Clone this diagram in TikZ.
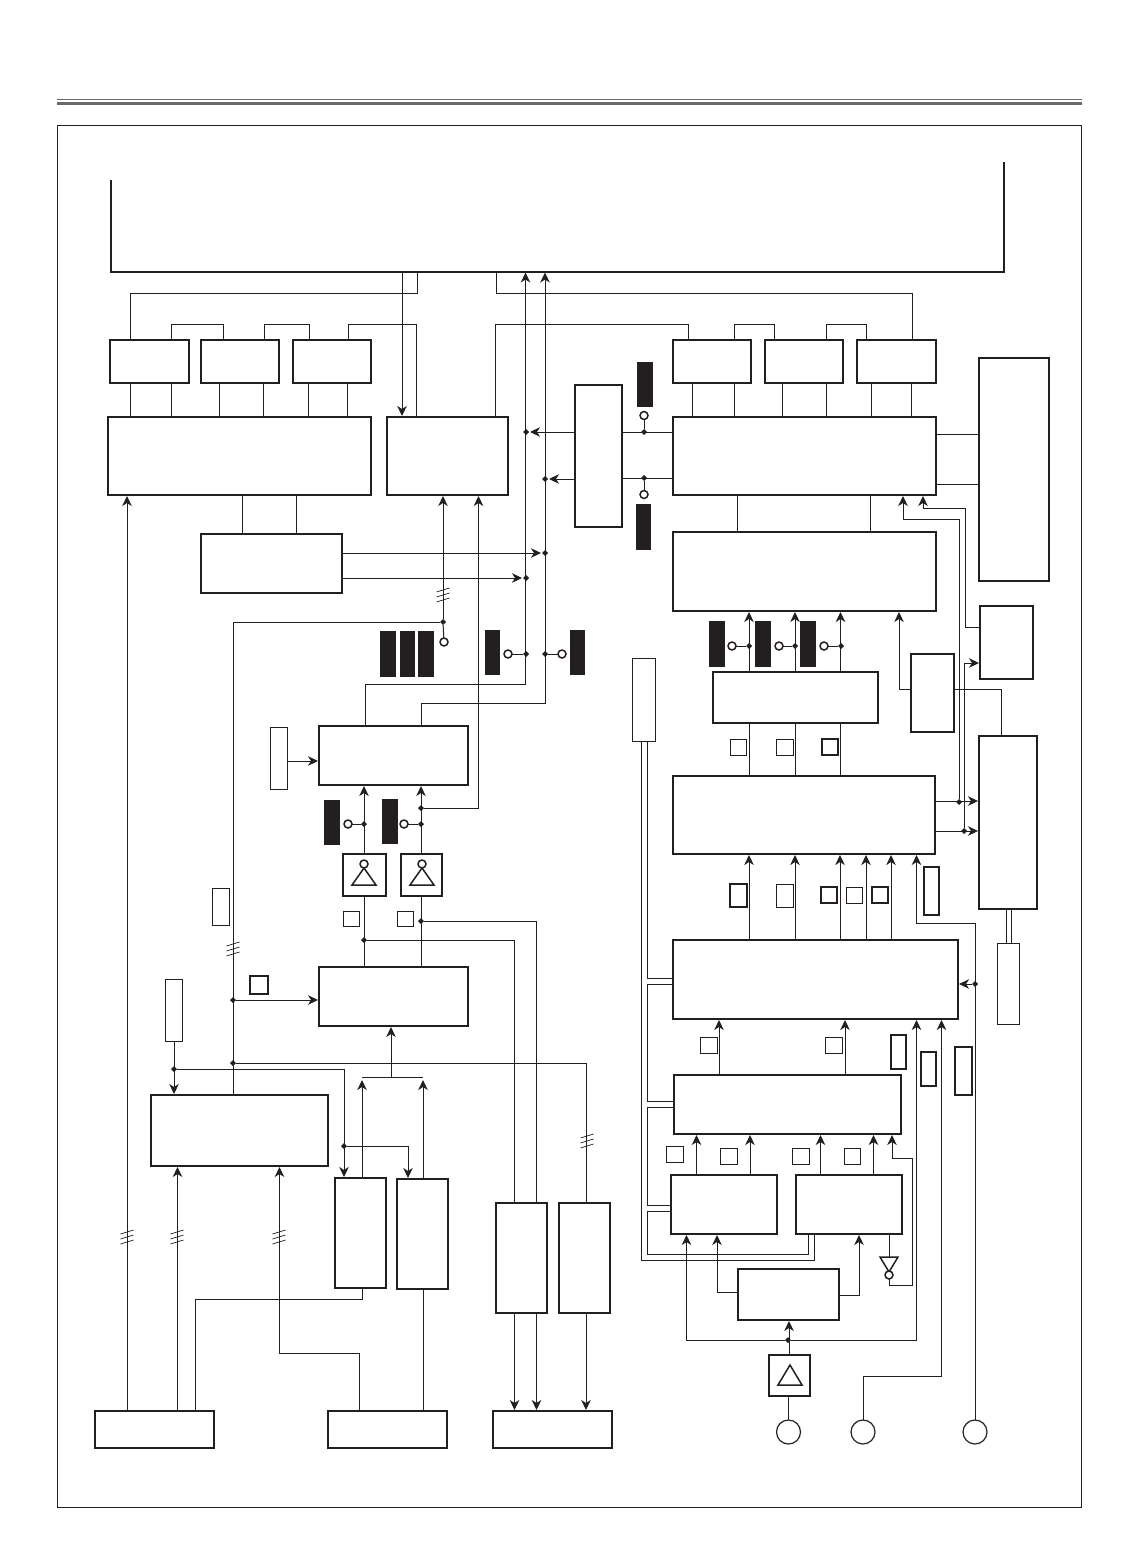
\documentclass[tikz,border=0pt]{standalone}
\usetikzlibrary{arrows.meta, fit}
\definecolor{corLinha}{RGB}{35, 31, 32}
\definecolor{corFaixa}{RGB}{105, 105, 105}
\tikzset{
  blk/.style={draw=corLinha, line width=2pt, inner sep=0pt, outer sep=0pt},
  ret/.style={draw=corLinha, line width=1pt, inner sep=0pt, outer sep=0pt},
  retG/.style={draw=corLinha, line width=2pt, inner sep=0pt, outer sep=0pt},
  preto/.style={fill=corLinha, inner sep=0pt, outer sep=0pt},
  lig/.style={draw=corLinha, line width=1pt},
  seta/.style={lig, -{Stealth[length=10pt, width=9.5pt, inset=3pt]}, shorten >=1pt},
  pto/.style={diamond, aspect=1, fill=corLinha, inner sep=0pt, outer sep=0pt, minimum size=6pt},
  anel/.style={circle, draw=corLinha, line width=1.5pt, fill=white, inner sep=0pt, outer sep=0pt, minimum size=8pt},
  ent/.style={circle, draw=corLinha, line width=1.2pt, inner sep=0pt, outer sep=0pt, minimum size=24pt},
  tri/.style={draw=corLinha, line width=1.5pt, line join=miter},
}
\usetikzlibrary{shapes.geometric}
\newcommand{\barras}[2]{%
  \foreach \d in {-5,0,5}
    \draw[corLinha, line width=.7pt] (#1-6.5,#2+\d+2) -- (#1+6.5,#2+\d-2);}

\begin{document}
\begin{tikzpicture}[x=1pt, y=-1pt]
  \useasboundingbox (0,0) rectangle (1123,1557);

  %% ================================================================
  %%  MOLDURA
  %% ================================================================
  \fill[corFaixa] (57,102) rectangle (1082,105);
  \draw[corFaixa, line width=1pt] (57,99.8) -- (1082,99.8);
  \draw[corLinha, line width=.8pt] (57,125.5) rectangle (1081.5,1507.5);

  % Bloco superior, aberto em cima
  \draw[corLinha, line width=2pt] (111,180) -- (111,271.5) -- (1004,271.5) -- (1004,162);
  \coordinate (topo) at (557,271.5);

  %% ================================================================
  %%  COLUNA ESQUERDA
  %% ================================================================
  \node[blk, fit={(110,340) (189,383)}] (memA) {};
  \node[blk, fit={(200.5,340) (279,383)}] (memB) {};
  \node[blk, fit={(292.5,340) (371,383)}] (memC) {};
  \node[blk, fit={(108,417) (371,495)}] (procE) {};
  \node[blk, fit={(387,417) (508,495)}] (procF) {};
  \node[blk, fit={(200.5,534) (342,593)}] (conv) {};
  \node[blk, fit={(319,726) (468,785)}] (procC) {};
  \node[blk, fit={(342.5,853.5) (385.5,896)}] (bufA) {};
  \node[blk, fit={(400.5,853.5) (442,896)}] (bufB) {};
  \node[blk, fit={(319,967) (468,1026)}] (procT) {};
  \node[blk, fit={(151,1095) (328,1166)}] (procU) {};
  \node[blk, fit={(335,1178) (386,1288)}] (memV) {};
  \node[blk, fit={(396.5,1179) (447.5,1289)}] (memW) {};
  \node[blk, fit={(496,1203) (547,1313)}] (procW) {};
  \node[blk, fit={(559,1203) (610,1313)}] (procX) {};
  \node[blk, fit={(95,1411) (214,1448)}] (inA) {};
  \node[blk, fit={(328,1411) (447,1448)}] (inB) {};
  \node[blk, fit={(493,1411) (612,1448)}] (inC) {};
  \node[ret, fit={(270,727) (287.5,789)}] (retC) {};
  \node[ret, fit={(165,979) (182.5,1041.5)}] (retT) {};
  \node[ret, fit={(212.5,888) (229.5,925)}] (retU) {};
  \node[retG, fit={(250,976) (268,994)}] (quadT) {};
  \node[ret, fit={(343,911) (359.5,926.5)}] (quadA) {};
  \node[ret, fit={(397.5,911) (413.5,926.5)}] (quadB) {};

  % Blocos pretos
  \foreach \a/\b/\c/\e [count=\i] in {380/631/396/677, 400/631/415/677, 418/631/434/677,
      485/630/500/675, 570/630/585/675, 324/800/340/845, 382/799/398/844}
    \node[preto, fit={(\a,\b) (\c,\e)}] (pretoE\i) {};

  % Triangulos dos buffers
  \draw[tri] (364,868) -- (352,885) -- (376,885) -- cycle;
  \draw[tri] (422,868) -- (410,885) -- (434,885) -- cycle;

  \node[anel] (anelE) at (444,642) {};
  \node[anel] (anelN) at (508,654) {};
  \node[anel] (anelO) at (562,654) {};
  \node[anel] (anelA) at (348,824) {};
  \node[anel] (anelB) at (404,824) {};
  \node[anel] (anelC) at (364,864) {};
  \node[anel] (anelD) at (422,864) {};

  \node[pto] (jE) at (443,622) {};
  \node[pto] (jN) at (526,654) {};
  \node[pto] (jO) at (545,654) {};
  \node[pto] (jA) at (364,824) {};
  \node[pto] (jB) at (421,824) {};
  \node[pto] (jF) at (421,808) {};
  \node[pto] (jW) at (364,940) {};
  \node[pto] (jZ) at (421,921) {};
  \node[pto] (jT) at (233,1000) {};
  \node[pto] (jX) at (233,1063) {};
  \node[pto] (jY) at (174,1069) {};
  \node[pto] (jV) at (344,1146) {};
  \node[pto] (jS) at (545,553) {};
  \node[pto] (jR) at (526,578) {};
  \node[pto] (jP) at (526,432) {};
  \node[pto] (jQ) at (545,479) {};

  % Memorias e bloco superior
  \draw[lig] (130,0 |- memA.north) |- (417,293) -- (417,0 |- topo);
  \draw[lig] (171,0 |- memA.north) |- (223,324) -- (223,0 |- memB.north);
  \draw[lig] (264,0 |- memB.north) |- (309,324) -- (309,0 |- memC.north);
  \draw[lig] (348,0 |- memC.north) |- (416,324) -- (416,0 |- procF.north);
  \draw[seta] (402,0 |- topo) -- (402,0 |- procF.north);
  \foreach \x in {130,171}
    \draw[lig] (\x,0 |- memA.south) -- (\x,0 |- procE.north);
  \foreach \x in {219.5,263}
    \draw[lig] (\x,0 |- memB.south) -- (\x,0 |- procE.north);
  \foreach \x in {308.5,347}
    \draw[lig] (\x,0 |- memC.south) -- (\x,0 |- procE.north);
  \foreach \x in {242.5,296}
    \draw[lig] (\x,0 |- procE.south) -- (\x,0 |- conv.north);

  % Saidas do conversor
  \draw[seta] (conv.east |- 0,553) -- (jS);
  \draw[seta] (conv.east |- 0,578) -- (jR);

  % Barramentos verticais
  \draw[seta] (365,0 |- procC.north) |- (525.5,684) -- (525.5,0 |- topo);
  \draw[seta] (421,0 |- procC.north) |- (545,703) -- (545,0 |- topo);
  \draw[lig] (anelN) -- (jN);
  \draw[lig] (jO) -- (anelO);
  \draw[lig] (anelE) -- (jE);
  \draw[seta] (jE) -- (443,0 |- procF.south);
  \draw[lig] (jE) -| (233,0 |- procU.north);
  \draw[seta] (jF) -| (478.5,0 |- procF.south);
  \draw[seta] (retC.east |- 0,761) -- (procC.west |- 0,761);

  % Buffers
  \draw[seta] (364,0 |- bufA.north) -- (364,0 |- procC.south);
  \draw[seta] (421,0 |- bufB.north) -- (421,0 |- procC.south);
  \draw[lig] (anelA) -- (jA);
  \draw[lig] (anelB) -- (jB);
  \draw[lig] (364,0 |- bufA.south) -- (364,0 |- procT.north);
  \draw[lig] (421,0 |- bufB.south) -- (421,0 |- procT.north);
  \draw[lig] (jW) -| (514.5,0 |- procW.north);
  \draw[lig] (jZ) -| (536.5,0 |- procW.north);
  \draw[seta] (jT) -- (procT.west |- 0,1000);
  \draw[lig] (jX) -| (586,0 |- procX.north);
  \draw[seta] (174,0 |- retT.south) -- (174,0 |- procU.north);
  \draw[seta] (jY) -| (344,0 |- memV.north);
  \draw[seta] (jV) -| (408,0 |- memW.north);

  % Memorias de baixo
  \draw[lig] (362,1077) -- (423,1077);
  \draw[seta] (391,1077) -- (391,0 |- procT.south);
  \draw[seta] (362,0 |- memV.north) -- (362,1079);
  \draw[seta] (423,0 |- memW.north) -- (423,1079);
  \draw[lig] (362,0 |- memV.south) |- (195,1299) -- (195,0 |- inA.north);
  \draw[lig] (423,0 |- memW.south) -- (423,0 |- inB.north);
  \draw[seta] (127,0 |- inA.north) -- (127,0 |- procE.south);
  \draw[seta] (177.5,0 |- inA.north) -- (177.5,0 |- procU.south);
  \draw[seta] (359.5,0 |- inB.north) |- (279.5,1353) -- (279.5,0 |- procU.south);
  \foreach \x in {514.5,536.5}
    \draw[seta] (\x,0 |- procW.south) -- (\x,0 |- inC.north);
  \draw[seta] (586,0 |- procX.south) -- (586,0 |- inC.north);

  \barras{443}{595}
  \barras{233}{949}
  \barras{587}{1141}
  \barras{127}{1237}
  \barras{177}{1237}
  \barras{279}{1237}

  %% ================================================================
  %%  SELETOR CENTRAL
  %% ================================================================
  \node[blk, fit={(575,385) (622,527)}] (selD) {};
  \node[preto, fit={(637,362) (653,407)}] (pretoS) {};
  \node[preto, fit={(636,504) (651,550)}] (pretoI) {};
  \node[anel] (anelS) at (644,415.5) {};
  \node[anel] (anelI) at (644,494.5) {};
  \node[pto] (jD1) at (644,432) {};
  \node[pto] (jD2) at (644,478) {};
  \draw[lig] (anelS) -- (jD1);
  \draw[lig] (anelI) -- (jD2);
  \draw[seta] (selD.west |- 0,432) -- (jP);
  \draw[seta] (selD.west |- 0,479) -- (jQ);

  %% ================================================================
  %%  COLUNA DIREITA
  %% ================================================================
  \node[blk, fit={(673,340) (751,383)}] (memD) {};
  \node[blk, fit={(765,340) (843,383)}] (memE) {};
  \node[blk, fit={(857,340) (936,383)}] (memF) {};
  \node[blk, fit={(673,417) (935.5,495)}] (procD) {};
  \node[blk, fit={(673,532) (935.5,611)}] (procG) {};
  \node[blk, fit={(979,358) (1049,581)}] (saidaA) {};
  \node[blk, fit={(980,606) (1033,679)}] (saidaB) {};
  \node[blk, fit={(911,654) (954,732)}] (ctrl) {};
  \node[blk, fit={(979,736) (1037,909)}] (saidaC) {};
  \node[blk, fit={(713,672) (878,723)}] (matriz) {};
  \node[blk, fit={(673,775.5) (935,854)}] (procK) {};
  \node[blk, fit={(673,940) (958,1019)}] (procM) {};
  \node[blk, fit={(674,1075) (901,1134)}] (procN) {};
  \node[blk, fit={(671,1175) (777,1234)}] (procP) {};
  \node[blk, fit={(796,1175) (902,1234)}] (procQ) {};
  \node[blk, fit={(738,1269) (839,1320)}] (pll) {};
  \node[blk, fit={(769,1355) (810,1396)}] (bufC) {};
  \draw[tri] (790,1365) -- (778,1385) -- (802,1385) -- cycle;
  \draw[tri] (880,1257) -- (898,1257) -- (889,1272) -- cycle;

  \node[ret, fit={(632,658) (655,741)}] (retV) {};
  \node[ret, fit={(997,943) (1019,1024)}] (retS) {};

  % Retangulos pequenos
  \foreach \a/\b/\c/\e [count=\i] in {730/739/746/755, 776/739/793/755, 776/884/793/907,
      846/887/862/903, 700/1037/717/1053, 825/1037/842/1053, 666/1146/683/1162,
      720/1148/737/1164, 792/1148/809/1164, 844/1148/860/1164}
    \node[ret, fit={(\a,\b) (\c,\e)}] (retF\i) {};
  \foreach \a/\b/\c/\e [count=\i] in {822/739/838/755, 730/884/747/907, 821/887/837/903,
      872/887/888/903, 924/867/939/915, 891/1035/906/1069, 921/1052/936/1086, 955/1047/972/1095}
    \node[retG, fit={(\a,\b) (\c,\e)}] (retN\i) {};

  % Blocos pretos
  \foreach \a [count=\i] in {709,755,800}
    \node[preto, fit={(\a,621) (\a+15.5,667)}] (pretoD\i) {};

  \node[anel] (anelF) at (732,646) {};
  \node[anel] (anelH) at (779,646) {};
  \node[anel] (anelJ) at (824,646) {};
  \node[anel] (anelQ) at (889,1275) {};
  \node[pto] (jF1) at (749,646) {};
  \node[pto] (jF2) at (795,646) {};
  \node[pto] (jF3) at (841,646) {};
  \node[pto] (jK1) at (959,802) {};
  \node[pto] (jK2) at (964,831) {};
  \node[pto] (jM) at (975,984) {};
  \node[pto] (jPll) at (788,1340) {};
  \node[ent] (entA) at (788.5,1432) {};
  \node[ent] (entB) at (863,1432) {};
  \node[ent] (entC) at (975,1432) {};

  % Memorias e bloco superior
  \draw[lig] (496.5,0 |- topo) |- (912,293) -- (912,0 |- memF.north);
  \draw[lig] (495,0 |- procF.north) |- (688.5,324) -- (688.5,0 |- memD.north);
  \draw[lig] (734,0 |- memD.north) |- (774,324) -- (774,0 |- memE.north);
  \draw[lig] (826,0 |- memE.north) |- (866,324) -- (866,0 |- memF.north);
  \foreach \x in {692,734}
    \draw[lig] (\x,0 |- memD.south) -- (\x,0 |- procD.north);
  \foreach \x in {782,826}
    \draw[lig] (\x,0 |- memE.south) -- (\x,0 |- procD.north);
  \foreach \x in {871.5,911}
    \draw[lig] (\x,0 |- memF.south) -- (\x,0 |- procD.north);
  \foreach \x in {737,870}
    \draw[lig] (\x,0 |- procD.south) -- (\x,0 |- procG.north);

  \draw[lig] (selD.east |- 0,432) -- (procD.west |- 0,432);
  \draw[lig] (selD.east |- 0,478) -- (procD.west |- 0,478);
  \draw[lig] (procD.east |- 0,434) -- (saidaA.west |- 0,434);
  \draw[lig] (procD.east |- 0,484) -- (saidaA.west |- 0,484);

  % Realimentacoes a direita
  \draw[seta] (jK1) |- (903,519) -- (903,0 |- procD.south);
  \draw[seta] (saidaB.west |- 0,627) -- (965.5,627) |- (923,508) -- (923,0 |- procD.south);
  \draw[seta] (jK2) |- (saidaB.west |- 0,663);
  \draw[seta] (ctrl.west |- 0,689) -| (899,0 |- procG.south);
  \draw[lig] (ctrl.east |- 0,689) -| (1001,0 |- saidaC.north);
  \draw[seta] (procK.east |- 0,801) -- (saidaC.west |- 0,801);
  \draw[seta] (procK.east |- 0,831) -- (saidaC.west |- 0,831);
  \foreach \x in {1006,1011}
    \draw[lig] (\x,0 |- saidaC.south) -- (\x,0 |- retS.north);

  % Matriz
  \foreach \x in {749,795,840.5} {
    \draw[seta] (\x,0 |- matriz.north) -- (\x,0 |- procG.south);
    \draw[lig] (\x,0 |- matriz.south) -- (\x,0 |- procK.north);
  }
  \draw[lig] (anelF) -- (jF1);
  \draw[lig] (anelH) -- (jF2);
  \draw[lig] (anelJ) -- (jF3);

  % Entradas de procK
  \foreach \x in {749,795,840,866,891}
    \draw[seta] (\x,0 |- procM.north) -- (\x,0 |- procK.south);
  \draw[seta] (entC) |- (916.5,923) -- (916.5,0 |- procK.south);
  \draw[seta] (jM) -- (procM.east |- 0,984);

  % Barramentos de retV
  \draw[lig] (641.5,0 |- retV.south) |- (814,1260) -- (814,0 |- procQ.south);
  \draw[lig] (647,0 |- retV.south) |- (procM.west |- 0,978);
  \draw[lig] (procM.west |- 0,984) -- (647,984) |- (procN.west |- 0,1101);
  \draw[lig] (procN.west |- 0,1107) -- (647,1107) |- (procP.west |- 0,1205);
  \draw[lig] (procP.west |- 0,1211) -- (647,1211) |- (808,1254) -- (808,0 |- procQ.south);

  % Entradas de procM e procN
  \foreach \x in {719,845}
    \draw[seta] (\x,0 |- procN.north) -- (\x,0 |- procM.south);
  \foreach \x in {696.5,750}
    \draw[seta] (\x,0 |- procP.north) -- (\x,0 |- procN.south);
  \foreach \x in {820.5,873.5}
    \draw[seta] (\x,0 |- procQ.north) -- (\x,0 |- procN.south);
  \draw[lig] (889,0 |- procQ.south) -- (889,1257);
  \draw[seta] (anelQ) |- (912,1285) |- (892,1158) -- (892,0 |- procN.south);

  % Relogio
  \draw[seta] (pll.west |- 0,1292) -| (717,0 |- procP.south);
  \draw[seta] (pll.east |- 0,1295) -| (859,0 |- procQ.south);
  \draw[seta] (789,0 |- bufC.north) -- (789,0 |- pll.south);
  \draw[seta] (jPll) -| (686.5,0 |- procP.south);
  \draw[seta] (jPll) -| (916.5,0 |- procM.south);
  \draw[lig] (entA) -- (788.5,0 |- bufC.south);
  \draw[seta] (entB) |- (941.5,1376) -- (941.5,0 |- procM.south);

\end{tikzpicture}
\end{document}
